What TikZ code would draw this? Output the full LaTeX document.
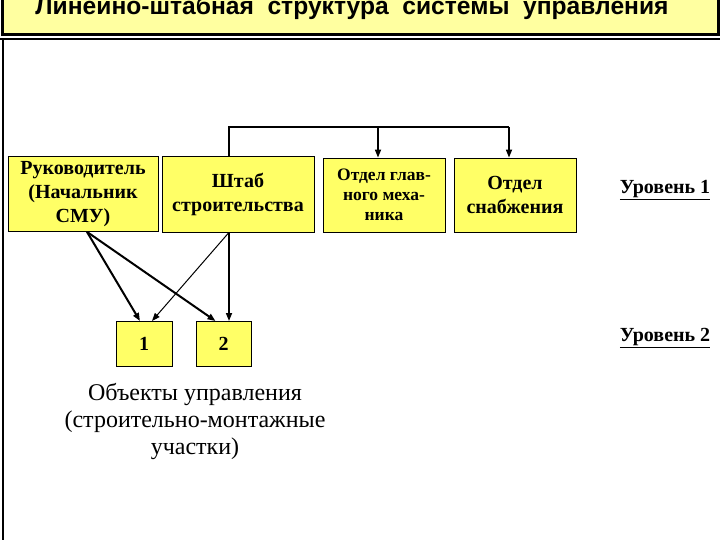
\documentclass[tikz,border=0pt]{standalone}
\usepackage{fontspec}
\setmainfont{Liberation Serif}
\newfontfamily\titlefont{Liberation Sans}
\usetikzlibrary{arrows.meta}

\definecolor{boxyellow}{RGB}{255,255,102}
\definecolor{titleyellow}{RGB}{255,255,160}

\begin{document}
\begin{tikzpicture}[x=1pt, y=-1pt,
  unit/.style={draw, line width=0.8pt, fill=boxyellow, align=center, inner sep=1pt,
    font=\fontsize{20}{24}\selectfont\bfseries},
  arr/.style={-{Triangle[length=8pt,width=6pt]}, line width=1pt},
  level/.style={font=\fontsize{20}{24}\selectfont\bfseries}]
\useasboundingbox (0,0) rectangle (720,540);
\clip (0,0) rectangle (720,540);
% title bar
\draw [line width=3pt, fill=titleyellow] (2,-20) rectangle (718,35);
\node [anchor=base, font=\titlefont\fontsize{24.6}{28}\selectfont\bfseries] (title) at (352,15) {Линейно-штабная\ \ структура\ \ системы\ \ управления};
\draw [line width=2pt] (0,39) -- (720,39);
\draw [line width=2pt] (3,39) -- (3,540);
% level 1
\node [unit, minimum width=150pt, minimum height=75pt] (ruk) at (83,194) {Руководитель\\(Начальник\\СМУ)};
\node [unit, minimum width=152pt, minimum height=76pt] (shtab) at (238,194) {Штаб\\строительства};
\node [unit, minimum width=122pt, minimum height=74pt, font=\fontsize{17.5}{20}\selectfont\bfseries] (meh) at (384,195) {Отдел глав-\\ного меха-\\ника};
\node [unit, minimum width=122pt, minimum height=74pt] (snab) at (515,195) {Отдел\\снабжения};
\node [level] (lev1) at (665,190) {\underline{Уровень 1}};
% level 2
\node [unit, minimum width=56pt, minimum height=45pt, anchor=north] (ob1) at (144,321) {1};
\node [unit, minimum width=55pt, minimum height=45pt, anchor=north] (ob2) at (223.5,321) {2};
\node [level] (lev2) at (665,338) {\underline{Уровень 2}};
\node [font=\fontsize{24}{27}\selectfont, align=center] (objects) at (195,421) {Объекты управления\\(строительно-монтажные\\участки)};
% staff links
\coordinate (bus) at (229,127);
\draw [line width=1.6pt] ([xshift=-9pt]shtab.north) -- (bus) -- (509,127);
\draw [arr, line width=1.6pt] (bus -| 378,0) -- ([xshift=-6pt]meh.north);
\draw [arr, line width=1.6pt] (bus -| 509,0) -- ([xshift=-6pt]snab.north);
\draw [arr, line width=2pt] ([xshift=4pt]ruk.south) -- ([xshift=-4pt]ob1.north);
\draw [arr, line width=2pt] ([xshift=4pt]ruk.south) -- ([xshift=-8pt]ob2.north);
\draw [arr] ([xshift=-9pt]shtab.south) -- ([xshift=8pt]ob1.north);
\draw [arr, line width=1.6pt] ([xshift=-9pt]shtab.south) -- ([xshift=5.5pt]ob2.north);
\end{tikzpicture}
\end{document}
